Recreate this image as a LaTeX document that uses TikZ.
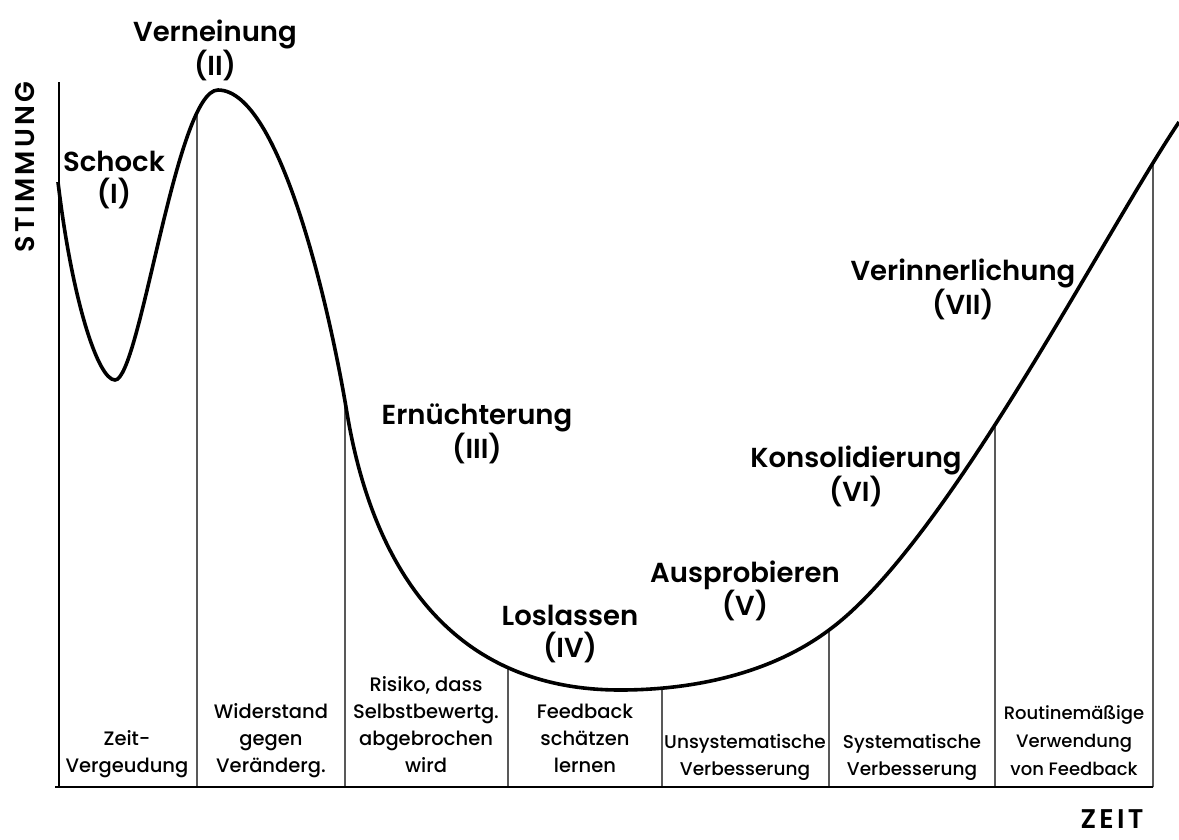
\documentclass[tikz,border=0pt]{standalone}
\usepackage{fontspec}
\setmainfont{Poppins}[UprightFont=* Medium, BoldFont=* SemiBold]
\newfontfamily\achsenfont{Poppins}[UprightFont=* SemiBold, LetterSpace=12]
\usetikzlibrary{intersections, positioning}

\begin{document}
\begin{tikzpicture}[x=1pt, y=-1pt,
    phase/.style={font=\fontsize{27.5}{32}\selectfont\bfseries, align=center, inner sep=0pt},
    boxtext/.style={font=\fontsize{19.5}{27}\selectfont, align=center, anchor=south,
        inner sep=0pt, execute at end node=\strut},
    axislabel/.style={font=\fontsize{27}{30}\achsenfont, inner sep=0pt},
    mood/.style={line width=3.6pt},
    divider/.style={line width=1.4pt},
    axisline/.style={line width=2pt}]

    \useasboundingbox (0,0) rectangle (1179,839);
    \fill[white] (0,0) rectangle (1179,839);

    % axes
    \coordinate (ytop) at (59,82);
    \coordinate (origin) at (59,787);
    \coordinate (xend) at (1153,787);
    \draw[axisline] (ytop) -- (origin);
    \draw[axisline] (55,787) -- (xend);

    \node[axislabel, rotate=90] (stimmung) at (25,167) {STIMMUNG};
    \node[axislabel] (zeit) at (1112,819) {ZEIT};

    % Stimmungskurve
    \coordinate (start) at (58,182);
    \coordinate (tief) at (115,380);
    \coordinate (gipfel) at (218,90);
    \coordinate (knick) at (347,413);
    \coordinate (boden) at (620,690);
    \coordinate (wende) at (829,630);
    \coordinate (ende) at (1179,122);
    \draw[mood, name path=kurve] (start)
        .. controls (72,300) and (98,380) .. (tief)
        .. controls (140,380) and (176,90) .. (gipfel)
        .. controls (280,90) and (330,310) .. (knick)
        .. controls (375,580) and (460,690) .. (boden)
        .. controls (690,690) and (769,675) .. (wende)
        .. controls (945,545) and (1099,242) .. (ende);

    % Trennlinien
    \foreach \x in {197,345,508,662,829,995,1153} {
        \path[name path=senk\x] (\x,0) -- (\x,800);
        \draw[divider, name intersections={of=kurve and senk\x, by=top\x}]
            (top\x) -- (\x,787);
    }

    % Phasen
    \node[phase] (schock) at (114,180) {Schock\\(I)};
    \node[phase] (verneinung) at (215,50) {Verneinung\\(II)};
    \node[phase] (ernuechterung) at (477,434) {Ernüchterung\\(III)};
    \node[phase] (loslassen) at (570,634) {Loslassen\\(IV)};
    \node[phase] (ausprobieren) at (745,591) {Ausprobieren\\(V)};
    \node[phase] (konsolidierung) at (856,476) {Konsolidierung\\(VI)};
    \node[phase] (verinnerlichung) at (963,289) {Verinnerlichung\\(VII)};

    % Kästchen unten
    \node[boxtext] (zeitv) at (127,781) {Zeit-\\Vergeudung};
    \node[boxtext] (widerstand) at (271,781) {Widerstand\\gegen\\Veränderg.};
    \node[boxtext] (risiko) at (426,781) {Risiko, dass\\Selbstbewertg.\\abgebrochen\\wird};
    \node[boxtext] (feedback) at (585,781) {Feedback\\schätzen\\lernen};
    \node[boxtext, font=\fontsize{18.5}{27}\selectfont] (unsys) at (745,784)
        {Unsystematische\\Verbesserung};
    \node[boxtext, font=\fontsize{18.5}{27}\selectfont] (sys) at (912,784)
        {Systematische\\Verbesserung};
    \node[boxtext, font=\fontsize{18}{28}\selectfont] (routine) at (1074,784)
        {Routinemäßige\\Verwendung\\von Feedback};
\end{tikzpicture}
\end{document}
